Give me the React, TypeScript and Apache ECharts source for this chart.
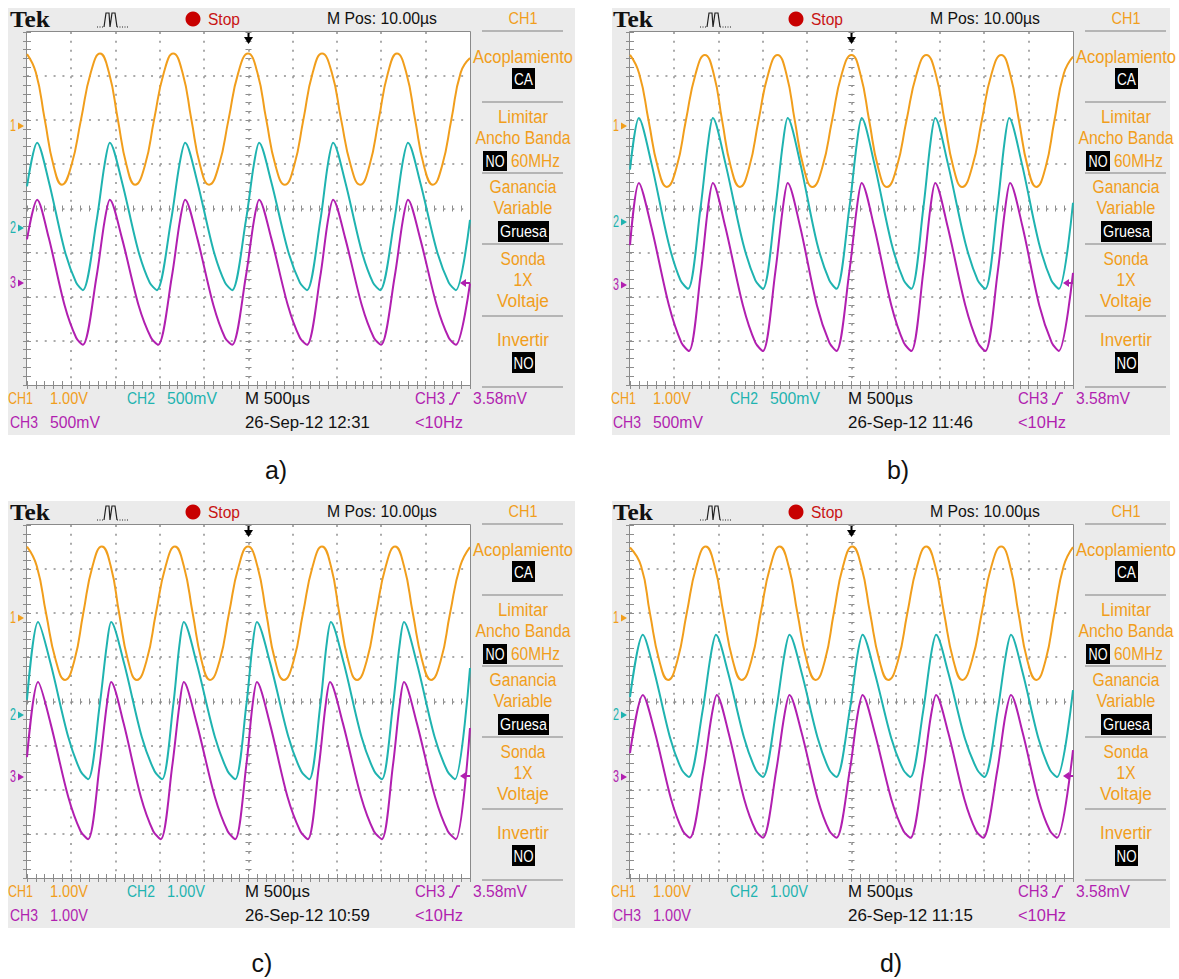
import { useEffect, useRef } from "react";
import * as echarts from "echarts";

// ---------- data (x: divisions 0..10 = 500 µs/div, y: divisions 0..8) ----------
const orangeA = [[0,7.5],[0.2,7.08],[0.4,6.02],[0.6,4.97],[0.79,4.54],[1,4.97],[1.22,6.02],[1.44,7.08],[1.65,7.51],[1.85,7.08],[2.05,6.02],[2.25,4.97],[2.44,4.54],[2.66,4.97],[2.87,6.02],[3.09,7.08],[3.3,7.51],[3.51,7.08],[3.71,6.02],[3.91,4.97],[4.11,4.54],[4.33,4.97],[4.55,6.02],[4.77,7.08],[4.99,7.51],[5.2,7.08],[5.4,6.02],[5.61,4.97],[5.82,4.54],[6.03,4.97],[6.24,6.02],[6.45,7.08],[6.66,7.51],[6.88,7.08],[7.09,6.02],[7.31,4.97],[7.52,4.54],[7.73,4.97],[7.94,6.02],[8.15,7.08],[8.35,7.51],[8.56,7.08],[8.76,6.02],[8.96,4.97],[9.16,4.54],[9.37,4.97],[9.58,6.02],[9.79,7.08],[10,7.41]];
const cyanA = [[0,4.5],[0.23,5.49],[0.49,4.62],[0.85,3.05],[1.11,2.32],[1.26,2.15],[1.57,3.72],[1.75,4.99],[1.87,5.49],[2.14,4.62],[2.51,3.05],[2.77,2.32],[2.93,2.15],[3.25,3.72],[3.44,4.99],[3.57,5.49],[3.84,4.62],[4.21,3.05],[4.47,2.32],[4.63,2.15],[4.94,3.72],[5.12,4.99],[5.24,5.49],[5.51,4.62],[5.89,3.05],[6.16,2.32],[6.32,2.15],[6.62,3.72],[6.79,4.99],[6.91,5.49],[7.18,4.62],[7.55,3.05],[7.81,2.32],[7.97,2.15],[8.29,3.72],[8.47,4.99],[8.6,5.49],[8.87,4.62],[9.25,3.05],[9.52,2.32],[9.68,2.15],[10,3.74]];
const magentaA = [[0,3.3],[0.23,4.2],[0.49,3.34],[0.85,1.8],[1.11,1.07],[1.26,0.91],[1.57,2.46],[1.75,3.71],[1.87,4.2],[2.14,3.34],[2.52,1.8],[2.8,1.07],[2.96,0.91],[3.27,2.46],[3.45,3.71],[3.57,4.2],[3.84,3.34],[4.21,1.8],[4.47,1.07],[4.63,0.91],[4.94,2.46],[5.12,3.71],[5.24,4.2],[5.51,3.34],[5.89,1.8],[6.16,1.07],[6.32,0.91],[6.62,2.46],[6.79,3.71],[6.91,4.2],[7.18,3.34],[7.56,1.8],[7.83,1.07],[7.99,0.91],[8.3,2.46],[8.48,3.71],[8.6,4.2],[8.87,3.34],[9.25,1.8],[9.52,1.07],[9.68,0.91],[10,2.3]];

const orangeB = [[0,7.48],[0.21,7.05],[0.42,5.99],[0.63,4.93],[0.83,4.49],[1.05,4.93],[1.26,5.99],[1.48,7.05],[1.69,7.48],[1.89,7.05],[2.08,5.99],[2.28,4.93],[2.48,4.49],[2.69,4.93],[2.9,5.99],[3.12,7.05],[3.33,7.48],[3.53,7.05],[3.72,5.99],[3.92,4.93],[4.12,4.49],[4.34,4.93],[4.56,5.99],[4.78,7.05],[5,7.48],[5.2,7.05],[5.4,5.99],[5.6,4.93],[5.8,4.49],[6.02,4.93],[6.24,5.99],[6.47,7.05],[6.69,7.48],[6.9,7.05],[7.1,5.99],[7.3,4.93],[7.5,4.49],[7.72,4.93],[7.94,5.99],[8.16,7.05],[8.38,7.48],[8.58,7.05],[8.78,5.99],[8.98,4.93],[9.17,4.49],[9.38,4.93],[9.58,5.99],[9.79,7.05],[10,7.44]];
const cyanB = [[0,4.88],[0.2,6.05],[0.48,5.04],[0.87,3.22],[1.14,2.37],[1.31,2.18],[1.59,4],[1.76,5.47],[1.87,6.05],[2.15,5.04],[2.55,3.22],[2.83,2.37],[3,2.18],[3.28,4],[3.45,5.47],[3.56,6.05],[3.84,5.04],[4.22,3.22],[4.5,2.37],[4.66,2.18],[4.95,4],[5.12,5.47],[5.23,6.05],[5.51,5.04],[5.9,3.22],[6.18,2.37],[6.35,2.18],[6.62,4],[6.78,5.47],[6.89,6.05],[7.17,5.04],[7.57,3.22],[7.85,2.37],[8.02,2.18],[8.29,4],[8.45,5.47],[8.56,6.05],[8.84,5.04],[9.23,3.22],[9.51,2.37],[9.68,2.18],[10,4.13]];
const magentaB = [[0,3.17],[0.2,4.58],[0.48,3.59],[0.88,1.8],[1.16,0.96],[1.33,0.77],[1.6,2.56],[1.76,4.01],[1.87,4.58],[2.15,3.59],[2.55,1.8],[2.83,0.96],[3,0.77],[3.28,2.56],[3.45,4.01],[3.56,4.58],[3.84,3.59],[4.22,1.8],[4.5,0.96],[4.66,0.77],[4.95,2.56],[5.12,4.01],[5.23,4.58],[5.51,3.59],[5.9,1.8],[6.18,0.96],[6.35,0.77],[6.62,2.56],[6.78,4.01],[6.89,4.58],[7.17,3.59],[7.57,1.8],[7.85,0.96],[8.02,0.77],[8.3,2.56],[8.47,4.01],[8.58,4.58],[8.86,3.59],[9.24,1.8],[9.52,0.96],[9.68,0.77],[10,2.54]];

const orangeC = [[0,7.51],[0.22,7.07],[0.43,6],[0.65,4.93],[0.86,4.49],[1.07,4.93],[1.27,6],[1.48,7.07],[1.69,7.51],[1.89,7.07],[2.08,6],[2.28,4.93],[2.48,4.49],[2.7,4.93],[2.91,6],[3.13,7.07],[3.34,7.51],[3.54,7.07],[3.74,6],[3.94,4.93],[4.13,4.49],[4.35,4.93],[4.56,6],[4.78,7.07],[4.99,7.51],[5.2,7.07],[5.4,6],[5.6,4.93],[5.8,4.49],[6.02,4.93],[6.23,6],[6.45,7.07],[6.66,7.51],[6.86,7.07],[7.05,6],[7.25,4.93],[7.45,4.49],[7.67,4.93],[7.88,6],[8.1,7.07],[8.31,7.51],[8.51,7.07],[8.71,6],[8.92,4.93],[9.12,4.49],[9.34,4.93],[9.55,6],[9.78,7.07],[10,7.5]];
const cyanC = [[0,4.04],[0.25,5.8],[0.53,4.87],[0.93,3.2],[1.21,2.42],[1.38,2.24],[1.64,3.91],[1.8,5.27],[1.9,5.8],[2.19,4.87],[2.59,3.2],[2.88,2.42],[3.05,2.24],[3.3,3.91],[3.44,5.27],[3.54,5.8],[3.83,4.87],[4.24,3.2],[4.53,2.42],[4.7,2.24],[4.95,3.91],[5.09,5.27],[5.19,5.8],[5.49,4.87],[5.9,3.2],[6.19,2.42],[6.37,2.24],[6.62,3.91],[6.76,5.27],[6.86,5.8],[7.15,4.87],[7.55,3.2],[7.84,2.42],[8.01,2.24],[8.26,3.91],[8.41,5.27],[8.51,5.8],[8.8,4.87],[9.2,3.2],[9.49,2.42],[9.66,2.24],[10,4.76]];
const magentaC = [[0,2.74],[0.25,4.44],[0.53,3.51],[0.93,1.84],[1.21,1.06],[1.38,0.88],[1.64,2.55],[1.8,3.91],[1.9,4.44],[2.18,3.51],[2.57,1.84],[2.85,1.06],[3.02,0.88],[3.28,2.55],[3.44,3.91],[3.54,4.44],[3.83,3.51],[4.24,1.84],[4.53,1.06],[4.7,0.88],[4.95,2.55],[5.09,3.91],[5.19,4.44],[5.48,3.51],[5.88,1.84],[6.17,1.06],[6.34,0.88],[6.59,2.55],[6.74,3.91],[6.84,4.44],[7.13,3.51],[7.54,1.84],[7.83,1.06],[8.01,0.88],[8.26,2.55],[8.41,3.91],[8.51,4.44],[8.8,3.51],[9.21,1.84],[9.5,1.06],[9.68,0.88],[10,3.4]];

const orangeD = [[0,7.49],[0.25,7.07],[0.45,6],[0.66,4.93],[0.86,4.49],[1.07,4.93],[1.28,6],[1.5,7.07],[1.71,7.51],[1.91,7.07],[2.11,6],[2.32,4.93],[2.52,4.49],[2.74,4.93],[2.95,6],[3.17,7.07],[3.38,7.51],[3.58,7.07],[3.78,6],[3.99,4.93],[4.19,4.49],[4.4,4.93],[4.6,6],[4.81,7.07],[5.02,7.51],[5.22,7.07],[5.42,6],[5.63,4.93],[5.83,4.49],[6.05,4.93],[6.26,6],[6.48,7.07],[6.69,7.51],[6.89,7.07],[7.09,6],[7.3,4.93],[7.5,4.49],[7.72,4.93],[7.94,6],[8.16,7.07],[8.38,7.51],[8.58,7.07],[8.77,6],[8.97,4.93],[9.17,4.49],[9.38,4.93],[9.58,6],[9.79,7.07],[10,7.5]];
const cyanD = [[0,4.1],[0.29,5.51],[0.55,4.67],[0.91,3.16],[1.17,2.45],[1.33,2.29],[1.64,3.8],[1.82,5.03],[1.94,5.51],[2.21,4.67],[2.58,3.16],[2.84,2.45],[3,2.29],[3.3,3.8],[3.48,5.03],[3.6,5.51],[3.87,4.67],[4.24,3.16],[4.5,2.45],[4.66,2.29],[4.96,3.8],[5.13,5.03],[5.25,5.51],[5.52,4.67],[5.9,3.16],[6.17,2.45],[6.33,2.29],[6.62,3.8],[6.79,5.03],[6.91,5.51],[7.18,4.67],[7.56,3.16],[7.84,2.45],[8,2.29],[8.3,3.8],[8.48,5.03],[8.6,5.51],[8.86,4.67],[9.22,3.16],[9.48,2.45],[9.64,2.29],[10,4.26]];
const magentaD = [[0,2.83],[0.29,4.15],[0.56,3.31],[0.93,1.78],[1.19,1.07],[1.35,0.91],[1.66,2.43],[1.84,3.66],[1.96,4.15],[2.22,3.31],[2.58,1.78],[2.84,1.07],[3,0.91],[3.3,2.43],[3.48,3.66],[3.6,4.15],[3.87,3.31],[4.24,1.78],[4.5,1.07],[4.66,0.91],[4.96,2.43],[5.13,3.66],[5.25,4.15],[5.52,3.31],[5.9,1.78],[6.17,1.07],[6.33,0.91],[6.62,2.43],[6.79,3.66],[6.91,4.15],[7.18,3.31],[7.55,1.78],[7.81,1.07],[7.97,0.91],[8.29,2.43],[8.47,3.66],[8.6,4.15],[8.86,3.31],[9.22,1.78],[9.48,1.07],[9.64,0.91],[10,2.9]];

const captions = ["a)", "b)", "c)", "d)"];
const ch2Scales = ["500mV", "500mV", "1.00V", "1.00V"];
const ch3Scales = ["500mV", "500mV", "1.00V", "1.00V"];
const dates = ["26-Sep-12 12:31", "26-Sep-12 11:46", "26-Sep-12 10:59", "26-Sep-12 11:15"];
const ch1Scale = "1.00V";
const timebase = "M 500µs";
const mPos = "M Pos: 10.00µs";
const trigLevel = "3.58mV";
const trigFreq = "<10Hz";

// ---------- style ----------
const ORANGE = "#f19e1c";
const CYAN = "#1fb3b0";
const MAGENTA = "#b11fb0";
const PANEL_BG = "#ebebeb";
const SCOPE = '"Liberation Sans", Arial, sans-serif';
const SERIF = '"Liberation Serif", "Times New Roman", serif';

const layout = [
  { ox: 0, oy: 0, bgW: 567, capX: 276, capY: 470, marks: [126, 228, 283] },
  { ox: 603, oy: 0, bgW: 558, capX: 898, capY: 470, marks: [126, 222, 285] },
  { ox: 0, oy: 493, bgW: 567, capX: 262, capY: 963, marks: [125, 222, 284] },
  { ox: 603, oy: 493, bgW: 558, capX: 891, capY: 963, marks: [125, 222, 284] },
];
const traces = [
  [orangeA, cyanA, magentaA],
  [orangeB, cyanB, magentaB],
  [orangeC, cyanC, magentaC],
  [orangeD, cyanD, magentaD],
];

let ctx2d: CanvasRenderingContext2D | null = null;
function measure(text: string, font: string) {
  if (!ctx2d) ctx2d = document.createElement("canvas").getContext("2d");
  ctx2d!.font = font;
  return ctx2d!.measureText(text).width || 1;
}

function txt(x: number, y: number, text: string, fill: string, size: number, width: number, align = "left", bold = false, family = SCOPE) {
  const font = `${bold ? "bold " : ""}${size}px ${family}`;
  const sx = width ? width / measure(text, font) : 1;
  return {
    type: "text", x, y, scaleX: sx, z: 100, silent: true,
    style: { text, font, fill, textAlign: align, textVerticalAlign: "middle", verticalAlign: "middle" },
  };
}

const tickStyle = { color: "#8c8c8c", width: 1 };

function xAx(gi: number, position: string, offset: number, inside: boolean, len: number) {
  return {
    gridIndex: gi, type: "value", min: 0, max: 10, interval: 1, position, offset, z: 2,
    axisLine: { show: false }, axisLabel: { show: false },
    axisTick: { show: true, inside, length: len, lineStyle: tickStyle },
    minorTick: { show: true, splitNumber: 5, length: len, lineStyle: tickStyle },
    splitLine: { show: false },
  };
}
function yAx(gi: number, position: string, offset: number, inside: boolean, len: number) {
  return {
    gridIndex: gi, type: "value", min: 0, max: 8, interval: 1, position, offset, z: 2,
    axisLine: { show: false }, axisLabel: { show: false },
    axisTick: { show: true, inside, length: len, lineStyle: tickStyle },
    minorTick: { show: true, splitNumber: 5, length: len, lineStyle: tickStyle },
    splitLine: { show: false },
  };
}

function buildOption() {
  const grid: any[] = [], xAxis: any[] = [], yAxis: any[] = [], series: any[] = [], graphic: any[] = [];
  layout.forEach((L, i) => {
    const { ox, oy } = L;
    const sl = ox + 27, st = oy + 32, sw = 443, sh = 353;
    grid.push({ left: sl, top: st, width: sw, height: sh, show: false });
    xAxis.push(xAx(i, "bottom", 0, true, 4), xAx(i, "top", 0, true, 4), xAx(i, "bottom", -sh / 2, false, 3), xAx(i, "top", -sh / 2, false, 3));
    yAxis.push(yAx(i, "left", 0, true, 4), yAx(i, "right", 0, true, 4), yAx(i, "left", -sw / 2, false, 3), yAx(i, "right", -sw / 2, false, 3));
    const colors = [ORANGE, CYAN, MAGENTA];
    traces[i].forEach((d, k) => {
      series.push({
        type: "line", xAxisIndex: i * 4, yAxisIndex: i * 4, data: d, showSymbol: false, symbol: "none",
        smooth: k === 0 ? 0.5 : 0.3, silent: true, z: 5 + k,
        lineStyle: { color: colors[k], width: 2 }, itemStyle: { color: colors[k] },
      });
    });

    const X = (v: number) => ox + v, Y = (v: number) => oy + v;
    // panel background + screen
    graphic.push({ type: "rect", z: -10, silent: true, shape: { x: X(L.ox ? 9 : 8), y: Y(8), width: L.bgW, height: 427 }, style: { fill: PANEL_BG } });
    graphic.push({ type: "rect", z: -5, silent: true, shape: { x: sl, y: st, width: sw, height: sh }, style: { fill: "#ffffff" } });
    graphic.push({ type: "rect", z: 4, silent: true, shape: { x: sl - 0.5, y: st - 0.5, width: sw + 1, height: sh + 1 }, style: { fill: null, stroke: "#8a8a8a", lineWidth: 1 } });
    // dotted graticule
    for (let k = 1; k < 10; k++) {
      const gx = Math.round(sl + (k * sw) / 10);
      graphic.push({ type: "line", z: 1, silent: true, shape: { x1: gx, y1: st, x2: gx, y2: st + sh }, style: { stroke: "#8e8e8e", lineWidth: 1.5, lineDash: [2, 6.83] } });
    }
    for (let k = 1; k < 8; k++) {
      const gy = Math.round(st + (k * sh) / 8);
      graphic.push({ type: "line", z: 1, silent: true, shape: { x1: sl, y1: gy, x2: sl + sw, y2: gy }, style: { stroke: "#8e8e8e", lineWidth: 1.5, lineDash: [2, 6.86] } });
    }
    // header
    graphic.push(txt(X(10), Y(19), "Tek", "#111", 23, 40, "left", true, SERIF));
    graphic.push({ type: "polyline", z: 100, silent: true, shape: { points: [[X(97), Y(27)], [X(104), Y(27)]] }, style: { stroke: "#222", lineWidth: 1, lineDash: [1, 1.5], fill: null } });
    graphic.push({ type: "polyline", z: 100, silent: true, shape: { points: [[X(104), Y(27)], [X(106), Y(13)], [X(109), Y(13)], [X(110), Y(27)], [X(112), Y(13)], [X(115), Y(13)], [X(117), Y(27)]] }, style: { stroke: "#222", lineWidth: 1.2, fill: null } });
    graphic.push({ type: "polyline", z: 100, silent: true, shape: { points: [[X(117), Y(27)], [X(128), Y(27)]] }, style: { stroke: "#222", lineWidth: 1, lineDash: [1, 1.5], fill: null } });
    graphic.push({ type: "circle", z: 100, silent: true, shape: { cx: X(193), cy: Y(19), r: 7.5 }, style: { fill: "#c80000" } });
    graphic.push(txt(X(208), Y(19), "Stop", "#c81414", 17, 32));
    graphic.push(txt(X(327), Y(18), mPos, "#111", 17, 110));
    graphic.push(txt(X(523), Y(18), "CH1", ORANGE, 17, 29, "center"));
    // trigger position arrow
    const cx = sl + sw / 2;
    graphic.push({ type: "line", z: 100, silent: true, shape: { x1: cx, y1: Y(33), x2: cx, y2: Y(42) }, style: { stroke: "#000", lineWidth: 2 } });
    graphic.push({ type: "polygon", z: 100, silent: true, shape: { points: [[cx - 4.5, Y(37)], [cx + 4.5, Y(37)], [cx, Y(44)]] }, style: { fill: "#000" } });
    // menu separators
    [31, 102, 173, 244, 316, 387].forEach((yy) => {
      graphic.push({ type: "line", z: 100, silent: true, shape: { x1: X(482), y1: Y(yy), x2: X(563), y2: Y(yy) }, style: { stroke: "#a3a3a3", lineWidth: 1.5 } });
    });
    const mx = X(523);
    graphic.push(txt(mx, Y(57), "Acoplamiento", ORANGE, 18, 100, "center"));
    graphic.push({ type: "rect", z: 99, silent: true, shape: { x: X(512), y: Y(68), width: 23, height: 21 }, style: { fill: "#000" } });
    graphic.push(txt(X(523.5), Y(78.5), "CA", "#fff", 17, 19, "center"));
    graphic.push(txt(mx, Y(117), "Limitar", ORANGE, 18, 50, "center"));
    graphic.push(txt(mx, Y(138), "Ancho Banda", ORANGE, 18, 95, "center"));
    graphic.push({ type: "rect", z: 99, silent: true, shape: { x: X(483), y: Y(151), width: 24, height: 20 }, style: { fill: "#000" } });
    graphic.push(txt(X(495), Y(161), "NO", "#fff", 17, 19, "center"));
    graphic.push(txt(X(511), Y(161), "60MHz", ORANGE, 18, 49));
    graphic.push(txt(mx, Y(187), "Ganancia", ORANGE, 18, 67, "center"));
    graphic.push(txt(mx, Y(208), "Variable", ORANGE, 18, 59, "center"));
    graphic.push({ type: "rect", z: 99, silent: true, shape: { x: X(498), y: Y(221), width: 51, height: 21 }, style: { fill: "#000" } });
    graphic.push(txt(X(523.5), Y(231.5), "Gruesa", "#fff", 17, 47, "center"));
    graphic.push(txt(mx, Y(259), "Sonda", ORANGE, 18, 45, "center"));
    graphic.push(txt(mx, Y(280), "1X", ORANGE, 18, 19, "center"));
    graphic.push(txt(mx, Y(301), "Voltaje", ORANGE, 18, 52, "center"));
    graphic.push(txt(mx, Y(340), "Invertir", ORANGE, 18, 52, "center"));
    graphic.push({ type: "rect", z: 99, silent: true, shape: { x: X(512), y: Y(352), width: 23, height: 21 }, style: { fill: "#000" } });
    graphic.push(txt(X(523.5), Y(362.5), "NO", "#fff", 17, 20, "center"));
    // bottom readouts
    graphic.push(txt(X(8), Y(398), "CH1", ORANGE, 16, 25));
    graphic.push(txt(X(50), Y(398), ch1Scale, ORANGE, 16, 38));
    graphic.push(txt(X(127), Y(398), "CH2", CYAN, 16, 28));
    graphic.push(txt(X(167), Y(398), ch2Scales[i], CYAN, 16, ch2Scales[i] === "500mV" ? 50 : 38));
    graphic.push(txt(X(245), Y(398), timebase, "#111", 16, 65));
    graphic.push(txt(X(415), Y(398), "CH3", MAGENTA, 16, 30));
    graphic.push({ type: "polyline", z: 100, silent: true, shape: { points: [[X(449), Y(404)], [X(452), Y(404)], [X(457), Y(393)], [X(460), Y(393)]] }, style: { stroke: MAGENTA, lineWidth: 1.5, fill: null } });
    graphic.push(txt(X(473), Y(398), trigLevel, MAGENTA, 16, 54));
    graphic.push(txt(X(10), Y(422), "CH3", MAGENTA, 16, 28));
    graphic.push(txt(X(50), Y(422), ch3Scales[i], MAGENTA, 16, ch3Scales[i] === "500mV" ? 50 : 38));
    graphic.push(txt(X(245), Y(422), dates[i], "#111", 16, 125));
    graphic.push(txt(X(415), Y(422), trigFreq, MAGENTA, 16, 48));
    // channel ground markers
    const mcol = [ORANGE, CYAN, MAGENTA];
    L.marks.forEach((my, k) => {
      graphic.push(txt(X(10), Y(my), String(k + 1), mcol[k], 16, 6));
      graphic.push({ type: "polygon", z: 100, silent: true, shape: { points: [[X(18), Y(my - 3.5)], [X(24), Y(my)], [X(18), Y(my + 3.5)]] }, style: { fill: mcol[k] } });
    });
    // trigger level marker
    const ty = Y(283), rx = sl + sw;
    graphic.push({ type: "polygon", z: 100, silent: true, shape: { points: [[rx - 10, ty], [rx - 4, ty - 4], [rx - 4, ty + 4]] }, style: { fill: MAGENTA } });
    graphic.push({ type: "line", z: 100, silent: true, shape: { x1: rx - 5, y1: ty, x2: rx, y2: ty }, style: { stroke: MAGENTA, lineWidth: 2 } });
    // caption
    graphic.push(txt(L.capX, L.capY, captions[i], "#111", 25, 0, "center", false, '"Liberation Sans", Arial, sans-serif'));
  });
  return { animation: false, backgroundColor: "#ffffff", grid, xAxis, yAxis, series, graphic };
}

export default function App() {
  const ref = useRef<HTMLDivElement>(null);
  useEffect(() => {
    if (!ref.current) return;
    const chart = echarts.init(ref.current, undefined, { renderer: "svg" });
    chart.setOption(buildOption() as any);
    return () => chart.dispose();
  }, []);
  return <div ref={ref} style={{ position: "absolute", left: 0, top: 0, width: 1179, height: 979 }} />;
}
